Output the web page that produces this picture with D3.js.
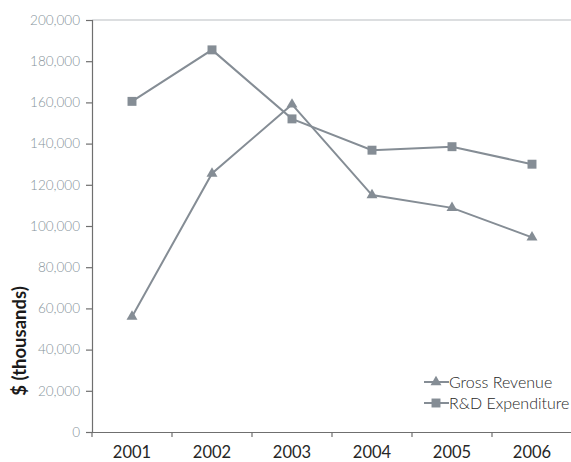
<!DOCTYPE html>
<html>
<head>
<meta charset="utf-8">
<script src="https://cdn.jsdelivr.net/npm/d3@7"></script>
<style>
  html, body { margin: 0; padding: 0; background: #fff; }
  svg { display: block; }
</style>
</head>
<body>
<svg id="chart" width="571" height="462"></svg>
<script>
// Yearly figures in $ thousands
const years = ["2001", "2002", "2003", "2004", "2005", "2006"];
const grossRevenue = [56000, 125500, 159000, 115000, 108800, 94500];
const rdExpenditure = [160500, 185500, 152000, 136800, 138500, 130000];
const yTicks = [0, 20000, 40000, 60000, 80000, 100000, 120000, 140000, 160000, 180000, 200000];
const seriesNames = ["Gross Revenue", "R&D Expenditure"];

const svg = d3.select("#chart");
const plotLeft = 92, plotRight = 572, plotTop = 20, plotBottom = 432;
const markColor = "#858d95";
const font = "Lato, 'Open Sans', sans-serif";

const x = d3.scaleBand().domain(years).range([plotLeft, plotRight]);
const y = d3.scaleLinear().domain([0, 200000]).range([plotBottom, plotTop]);

// top frame line
svg.append("line")
  .attr("x1", plotLeft).attr("x2", 571)
  .attr("y1", y(200000)).attr("y2", y(200000))
  .attr("stroke", "#b9bdc1").attr("stroke-width", 1.2);

// y axis
const yAxis = svg.append("g")
  .attr("transform", `translate(${plotLeft},0)`)
  .call(d3.axisLeft(y).tickValues(yTicks).tickSize(6).tickPadding(6)
    .tickFormat(d3.format(",")));
yAxis.select(".domain").attr("stroke", "#6f6f6f").attr("stroke-width", 1.2);
yAxis.selectAll(".tick line").attr("stroke", "#6f6f6f").attr("stroke-width", 1.2);
yAxis.selectAll("text")
  .attr("fill", "#86939a")
  .style("font-family", font)
  .style("font-size", "13.5px")
  .style("font-weight", 300);

// x axis with ticks on category boundaries
const xAxis = svg.append("g")
  .attr("transform", `translate(0,${plotBottom})`)
  .call(d3.axisBottom(x).tickSize(0).tickPadding(14));
xAxis.select(".domain").attr("stroke", "#6f6f6f").attr("stroke-width", 1.2);
xAxis.selectAll("text")
  .attr("fill", "#262626")
  .style("font-family", font)
  .style("font-size", "16.5px")
  .style("font-weight", 400);
const bounds = years.map(d => x(d)).concat([x(years[years.length - 1]) + x.bandwidth()]);
xAxis.selectAll(".bound")
  .data(bounds)
  .join("line")
  .attr("class", "bound")
  .attr("x1", d => d).attr("x2", d => d)
  .attr("y1", 0).attr("y2", 5)
  .attr("stroke", "#6f6f6f").attr("stroke-width", 1.2);

// y axis title
svg.append("text")
  .attr("transform", "translate(26,341) rotate(-90)")
  .attr("text-anchor", "middle")
  .attr("fill", "#1a1a1a")
  .style("font-family", font)
  .style("font-size", "18.5px")
  .style("font-weight", 700)
  .text("$ (thousands)");

const cx = d => x(d) + x.bandwidth() / 2;
const line = d3.line().x(d => cx(d.year)).y(d => y(d.value));

const tri = d3.symbol().type(d3.symbolTriangle).size(52);
const sq = d3.symbol().type(d3.symbolSquare).size(80);

function drawSeries(values, symbol) {
  const pts = years.map((yr, i) => ({ year: yr, value: values[i] }));
  svg.append("path")
    .datum(pts)
    .attr("d", line)
    .attr("fill", "none")
    .attr("stroke", markColor)
    .attr("stroke-width", 2);
  svg.selectAll(null)
    .data(pts)
    .join("path")
    .attr("d", symbol)
    .attr("transform", d => `translate(${cx(d.year)},${y(d.value)})`)
    .attr("fill", markColor);
}

drawSeries(rdExpenditure, sq);
drawSeries(grossRevenue, tri);

// legend
const legend = svg.append("g");
const legendSymbols = [tri, sq];
seriesNames.forEach((name, i) => {
  const ly = 382 + i * 21;
  legend.append("line")
    .attr("x1", 424).attr("x2", 449)
    .attr("y1", ly).attr("y2", ly)
    .attr("stroke", markColor).attr("stroke-width", 2);
  legend.append("path")
    .attr("d", legendSymbols[i])
    .attr("transform", `translate(436,${ly})`)
    .attr("fill", markColor);
  legend.append("text")
    .attr("x", 449).attr("y", ly + 5.5)
    .attr("fill", "#262626")
    .style("font-family", font)
    .style("font-size", "16px")
    .style("font-weight", 300)
    .text(name);
});
</script>
</body>
</html>
